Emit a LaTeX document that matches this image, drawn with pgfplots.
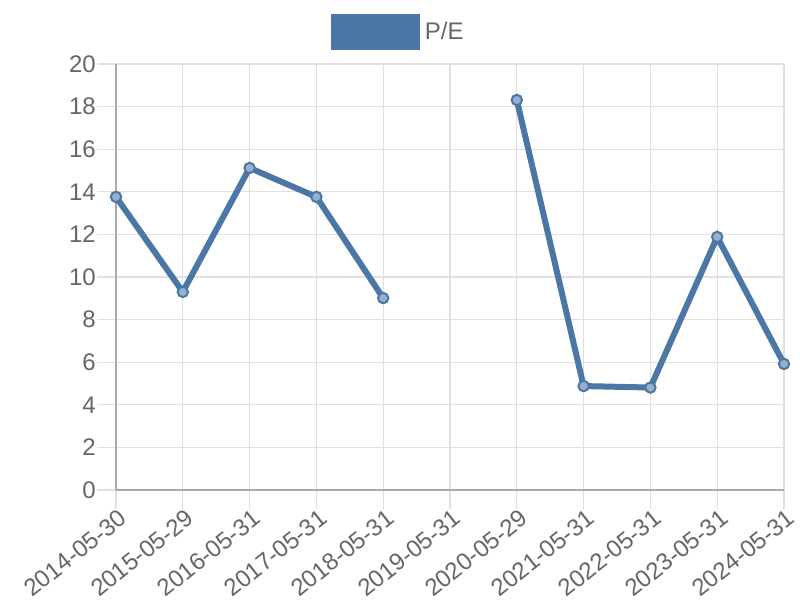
\documentclass[border=0pt]{standalone}
\usepackage{fontspec}
\setmainfont{Liberation Sans}
\usepackage{pgfplots}
\pgfplotsset{compat=1.18}
\definecolor{pe}{RGB}{74,119,166}
\definecolor{pefill}{RGB}{150,176,206}
\definecolor{gridc}{RGB}{224,224,224}
\definecolor{axisc}{RGB}{170,170,170}
\definecolor{txt}{RGB}{102,102,102}
\begin{document}
\begin{tikzpicture}
\path[use as bounding box] (0,0) rectangle (600pt,450pt);
\begin{axis}[
  at={(87pt,82.5pt)}, anchor=south west,
  scale only axis, width=501pt, height=319.5pt,
  xmin=0, xmax=10, ymin=0, ymax=20,
  xtick={0,...,10},
  xticklabels={2014-05-30,2015-05-29,2016-05-31,2017-05-31,2018-05-31,2019-05-31,2020-05-29,2021-05-31,2022-05-31,2023-05-31,2024-05-31},
  ytick={0,2,...,20},
  axis lines*=left,
  axis line style={axisc, line width=1pt},
  grid=major,
  major grid style={gridc, line width=0.8pt},
  tick align=outside,
  major tick length=14pt,
  tick style={gridc, line width=0.8pt},
  /pgf/number format/assume math mode=true,
  ticklabel style={font=\fontsize{18pt}{21pt}\selectfont, text=txt},
  xticklabel style={rotate=38.5, anchor=north east, inner sep=0.5pt, xshift=2pt},
  yticklabel style={inner sep=1pt},
  unbounded coords=jump,
  clip=false,
  legend style={at={(0.423,1.075)}, anchor=center, draw=none, fill=none,
    font=\fontsize{18pt}{21pt}\selectfont, text=txt,
    /tikz/every odd column/.append style={column sep=2pt}},
  legend image code/.code={\fill[pe] (0pt,-11pt) rectangle (62pt,11pt);},
]
\addplot[pe, line width=4.5pt, mark=*, mark size=3.9pt,
  mark options={fill=pefill, draw=pe, line width=1.5pt}]
  coordinates {(0,13.76)(1,9.30)(2,15.12)(3,13.76)(4,9.01)(5,nan)(6,18.31)(7,4.88)(8,4.81)(9,11.88)(10,5.92)};
\addlegendentry{P/E}
\end{axis}
\end{tikzpicture}
\end{document}
